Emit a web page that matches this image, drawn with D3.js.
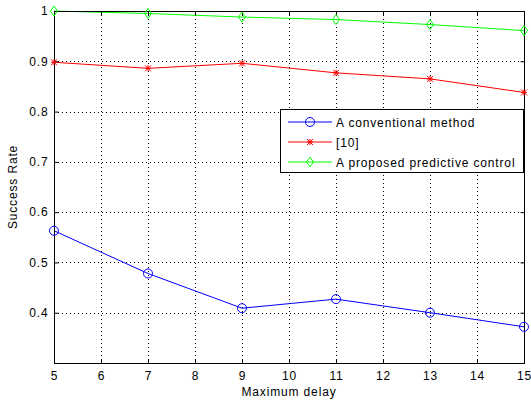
<!DOCTYPE html>
<html><head><meta charset="utf-8">
<script src="https://cdn.jsdelivr.net/npm/d3@7"></script>
<style>body{margin:0;background:#fff}svg{display:block;font-family:"Liberation Sans",Arial,sans-serif}svg text{letter-spacing:0.85px}</style>
</head><body>
<script>
const delays = [5, 7, 9, 11, 13, 15];
const conventional = [0.563, 0.478, 0.409, 0.427, 0.400, 0.372];
const ref10 = [0.898, 0.886, 0.896, 0.877, 0.865, 0.838];
const proposed = [1.000, 0.995, 0.988, 0.983, 0.973, 0.961];
const xTicks = [5,6,7,8,9,10,11,12,13,14,15];
const yTicks = [0.4,0.5,0.6,0.7,0.8,0.9,1];
const seriesNames = ["A conventional method", "[10]", "A proposed predictive control"];
const seriesColors = ["#0000ff", "#ff0000", "#00ff00"];
const seriesMarkers = ["circle", "star", "diamond"];

const W = 531, H = 401;
const m = {left: 54, right: 7, top: 11, bottom: 38};
const svg = d3.select("body").append("svg").attr("width", W).attr("height", H);
const x = d3.scaleLinear().domain([5, 15]).range([m.left, W - m.right]);
const y = d3.scaleLinear().domain([0.3, 1]).range([H - m.bottom, m.top]);
const x0 = m.left, x1 = W - m.right, y0 = H - m.bottom, y1 = m.top;

// grid
const g = svg.append("g");
g.selectAll("line.vx").data(xTicks.slice(1, -1)).join("line")
  .attr("x1", d => x(d) + 0.5).attr("x2", d => x(d) + 0.5).attr("y1", y1).attr("y2", y0)
  .attr("stroke", "#000").attr("stroke-width", 1).attr("stroke-dasharray", "1,3");
g.selectAll("line.hy").data(yTicks.slice(0, -1)).join("line")
  .attr("y1", d => Math.round(y(d)) + 0.5).attr("y2", d => Math.round(y(d)) + 0.5).attr("x1", x0).attr("x2", x1)
  .attr("stroke", "#000").attr("stroke-width", 1).attr("stroke-dasharray", "1,3");

// series
const all = [conventional, ref10, proposed];
const line = d3.line().x((d, i) => x(delays[i])).y(d => y(d));
all.forEach((vals, k) => {
  const c = seriesColors[k];
  svg.append("path").datum(vals).attr("d", line).attr("fill", "none").attr("stroke", c).attr("stroke-width", 1);
});

function marker(sel, type, color, cx, cy) {
  if (type === "circle") {
    sel.append("circle").attr("cx", cx).attr("cy", cy).attr("r", 4.5).attr("fill", "none").attr("stroke", color).attr("stroke-width", 1);
  } else if (type === "diamond") {
    sel.append("path").attr("d", `M${cx},${cy-5}L${cx+3.5},${cy}L${cx},${cy+5}L${cx-3.5},${cy}Z`).attr("fill", "none").attr("stroke", color).attr("stroke-width", 1);
  } else {
    const r = 3;
    sel.append("path").attr("d", `M${cx-r},${cy-r}L${cx+r},${cy+r}M${cx-r},${cy+r}L${cx+r},${cy-r}M${cx},${cy-r}L${cx},${cy+r}M${cx-r},${cy}L${cx+r},${cy}`)
      .attr("stroke", color).attr("stroke-width", 1);
  }
}

// axes box
const ax = svg.append("g");
ax.append("rect").attr("x", x0 + 0.5).attr("y", y1 + 0.5).attr("width", x1 - x0).attr("height", y0 - y1)
  .attr("fill", "none").attr("stroke", "#000").attr("stroke-width", 1);
const xb = d3.axisBottom(x).tickValues(xTicks).tickSize(-4).tickPadding(8).tickFormat(d3.format("d"));
const xt = d3.axisTop(x).tickValues(xTicks).tickSize(-4).tickFormat("");
const yl = d3.axisLeft(y).tickValues(yTicks).tickSize(-4).tickPadding(6).tickFormat(d => d === 1 ? "1" : d3.format(".1f")(d));
const yr = d3.axisRight(y).tickValues(yTicks).tickSize(-4).tickFormat("");
[[xb, `translate(0,${y0 + 0.5})`], [xt, `translate(0,${y1 + 0.5})`], [yl, `translate(${x0 + 0.5},0)`], [yr, `translate(${x1 + 0.5},0)`]].forEach(([a, t]) => {
  const s = ax.append("g").attr("transform", t).call(a);
  s.select(".domain").remove();
  s.selectAll("line").attr("stroke", "#000");
  s.selectAll("text").attr("font-size", 12).attr("fill", "#000").attr("font-family", '"Liberation Sans",Arial,sans-serif');
});

// markers on top
all.forEach((vals, k) => {
  const mg = svg.append("g");
  vals.forEach((v, i) => marker(mg, seriesMarkers[k], seriesColors[k], x(delays[i]), y(v)));
});

// titles
svg.append("text").attr("x", (x0 + x1) / 2).attr("y", 396).attr("text-anchor", "middle").attr("font-size", 12).text("Maximum delay");
svg.append("text").attr("transform", `translate(17,${(y0 + y1) / 2}) rotate(-90)`).attr("text-anchor", "middle").attr("font-size", 12).text("Success Rate");

// legend
const lg = svg.append("g");
lg.append("rect").attr("x", 280.5).attr("y", 109.5).attr("width", 243).attr("height", 63).attr("fill", "#fff").attr("stroke", "#000").attr("stroke-width", 1);
seriesNames.forEach((n, k) => {
  const ly = 122 + k * 20;
  lg.append("line").attr("x1", 288).attr("x2", 332).attr("y1", ly).attr("y2", ly).attr("stroke", seriesColors[k]).attr("stroke-width", 1);
  marker(lg, seriesMarkers[k], seriesColors[k], 310, ly);
  lg.append("text").attr("x", 336).attr("y", ly + 4.5).attr("font-size", 12).text(n);
});
</script>
</body></html>
